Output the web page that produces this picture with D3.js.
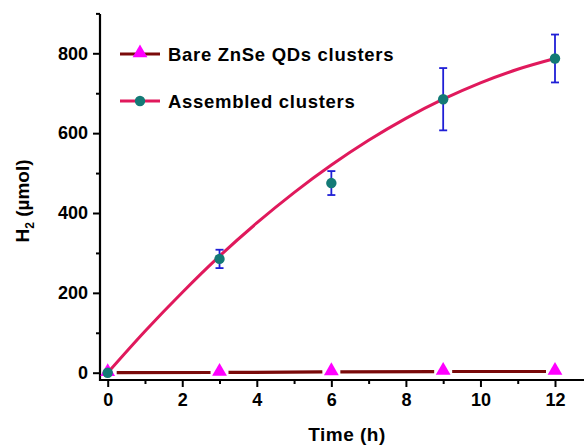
<!DOCTYPE html>
<html>
<head>
<meta charset="utf-8">
<script src="https://cdn.jsdelivr.net/npm/d3@7/dist/d3.min.js"></script>
<style>
  html, body { margin: 0; padding: 0; background: #fff; }
  svg { display: block; font-family: "Liberation Sans", Arial, sans-serif; font-weight: bold; }
</style>
</head>
<body>
<svg id="chart" width="584" height="447"></svg>
<script>
// Sampling times (h)
const times = [0, 3, 6, 9, 12];
// H2 evolved by bare ZnSe QD clusters (µmol)
const bareValues = [0, 0.5, 2, 3, 3];
// H2 evolved by assembled clusters (µmol) and their error bars
const assembledValues = [0, 285, 475, 685, 787];
const assembledErrors = [0, 23, 30, 78, 60];
// Fitted trend for the assembled clusters, sampled hourly
const fitTimes = [0, 1, 2, 3, 4, 5, 6, 7, 8, 9, 10, 11, 12];
const fitValues = [0, 104, 201, 292, 375, 451, 520, 582, 637, 685, 726, 760, 787];
// Axis ticks
const xMajorTicks = [0, 2, 4, 6, 8, 10, 12];
const xMinorTicks = [1, 3, 5, 7, 9, 11, 13];
const yMajorTicks = [0, 200, 400, 600, 800];
const yMinorTicks = [100, 300, 500, 700, 900];
// Legend entries
const seriesNames = ["Bare ZnSe QDs clusters", "Assembled clusters"];

const svg = d3.select("#chart");
const plot = { left: 100, right: 584, top: 14, bottom: 380 };

const x = d3.scaleLinear().domain([0, 12]).range([107.7, 555]);
const y = d3.scaleLinear().domain([0, 800]).range([372.7, 53.3]);

const colors = {
  bareLine: "#7a0a0a",
  bareMarker: "#ff00ff",
  fitLine: "#e0195c",
  dot: "#137a76",
  err: "#1f1fd6"
};

// Axes
const xAxis = d3.axisBottom(x).tickValues(xMajorTicks).tickSize(7).tickPadding(6).tickFormat(d3.format("d"));
const xAxisMinor = d3.axisBottom(x).tickValues(xMinorTicks).tickSize(4).tickFormat("");
const yAxis = d3.axisLeft(y).tickValues(yMajorTicks).tickSize(7).tickPadding(5).tickFormat(d3.format("d"));
const yAxisMinor = d3.axisLeft(y).tickValues(yMinorTicks).tickSize(4).tickFormat("");

function styleAxis(g) {
  g.select(".domain").remove();
  g.selectAll(".tick line").attr("stroke", "#000").attr("stroke-width", 2);
  g.selectAll(".tick text")
    .attr("fill", "#000")
    .style("font-size", "18px")
    .style("font-weight", "bold")
    .style("font-family", "'Liberation Sans', Arial, sans-serif");
}

svg.append("g").attr("transform", `translate(0,${plot.bottom})`).call(xAxis).call(styleAxis);
svg.append("g").attr("transform", `translate(0,${plot.bottom})`).call(xAxisMinor).call(styleAxis);
svg.append("g").attr("transform", `translate(${plot.left},0)`).call(yAxis).call(styleAxis);
svg.append("g").attr("transform", `translate(${plot.left},0)`).call(yAxisMinor).call(styleAxis);

// Axis lines
svg.append("path")
  .attr("d", `M${plot.left},${plot.top}V${plot.bottom}H${plot.right}`)
  .attr("fill", "none").attr("stroke", "#000").attr("stroke-width", 2.2);

// Axis titles
svg.append("text")
  .attr("x", 347).attr("y", 441)
  .attr("text-anchor", "middle")
  .style("font-size", "19px")
  .style("letter-spacing", "0.5px")
  .text("Time (h)");

const yTitle = svg.append("text")
  .attr("transform", "translate(29,201) rotate(-90)")
  .attr("text-anchor", "middle")
  .style("font-size", "19px");
yTitle.append("tspan").text("H");
yTitle.append("tspan").attr("dy", 5).style("font-size", "12px").text("2");
yTitle.append("tspan").attr("dy", -5).text(" (µmol)");

// Bare clusters: line segments with gaps around the markers
const barePts = times.map((t, i) => [x(t), y(bareValues[i])]);
const gap = 9;
for (let i = 0; i < barePts.length - 1; i++) {
  const [x0, y0] = barePts[i];
  const [x1, y1] = barePts[i + 1];
  const len = Math.hypot(x1 - x0, y1 - y0);
  const ux = (x1 - x0) / len, uy = (y1 - y0) / len;
  svg.append("line")
    .attr("x1", x0 + ux * gap).attr("y1", y0 + uy * gap)
    .attr("x2", x1 - ux * gap).attr("y2", y1 - uy * gap)
    .attr("stroke", colors.bareLine).attr("stroke-width", 3.2);
}

const triangle = d3.symbol().type(d3.symbolTriangle).size(95);
svg.selectAll(".bare-pt")
  .data(barePts)
  .join("path")
  .attr("class", "bare-pt")
  .attr("transform", d => `translate(${d[0]},${d[1] - 1})`)
  .attr("d", triangle)
  .attr("fill", colors.bareMarker);

// Fitted curve for assembled clusters
const line = d3.line().x(d => x(d[0])).y(d => y(d[1])).curve(d3.curveMonotoneX);
svg.append("path")
  .datum(fitTimes.map((t, i) => [t, fitValues[i]]))
  .attr("d", line)
  .attr("fill", "none")
  .attr("stroke", colors.fitLine)
  .attr("stroke-width", 3);

// Error bars
const errG = svg.append("g").attr("stroke", colors.err).attr("stroke-width", 1.8).attr("fill", "none");
times.forEach((t, i) => {
  const e = assembledErrors[i];
  if (!e) return;
  const cx = x(t);
  const yt = y(assembledValues[i] + e), yb = y(assembledValues[i] - e);
  errG.append("line").attr("x1", cx).attr("x2", cx).attr("y1", yt).attr("y2", yb);
  errG.append("line").attr("x1", cx - 4).attr("x2", cx + 4).attr("y1", yt).attr("y2", yt);
  errG.append("line").attr("x1", cx - 4).attr("x2", cx + 4).attr("y1", yb).attr("y2", yb);
});

// Assembled cluster data points
svg.selectAll(".asm-pt")
  .data(times.map((t, i) => [x(t), y(assembledValues[i])]))
  .join("circle")
  .attr("class", "asm-pt")
  .attr("cx", d => d[0]).attr("cy", d => d[1])
  .attr("r", 5.2)
  .attr("fill", colors.dot);

// Legend
const legend = svg.append("g");
const rows = [
  { name: seriesNames[0], y: 54, line: colors.bareLine, marker: "tri" },
  { name: seriesNames[1], y: 101, line: colors.fitLine, marker: "dot" }
];
rows.forEach(r => {
  legend.append("line")
    .attr("x1", 120).attr("x2", 160).attr("y1", r.y).attr("y2", r.y)
    .attr("stroke", r.line).attr("stroke-width", 3.2);
  if (r.marker === "tri") {
    legend.append("path").attr("transform", `translate(140,${r.y - 1})`).attr("d", triangle).attr("fill", colors.bareMarker);
  } else {
    legend.append("circle").attr("cx", 140).attr("cy", r.y).attr("r", 5.2).attr("fill", colors.dot);
  }
  legend.append("text")
    .attr("x", 168).attr("y", r.y + 6.5)
    .style("font-size", "18.5px")
    .style("letter-spacing", "0.7px")
    .text(r.name);
});
</script>
</body>
</html>
